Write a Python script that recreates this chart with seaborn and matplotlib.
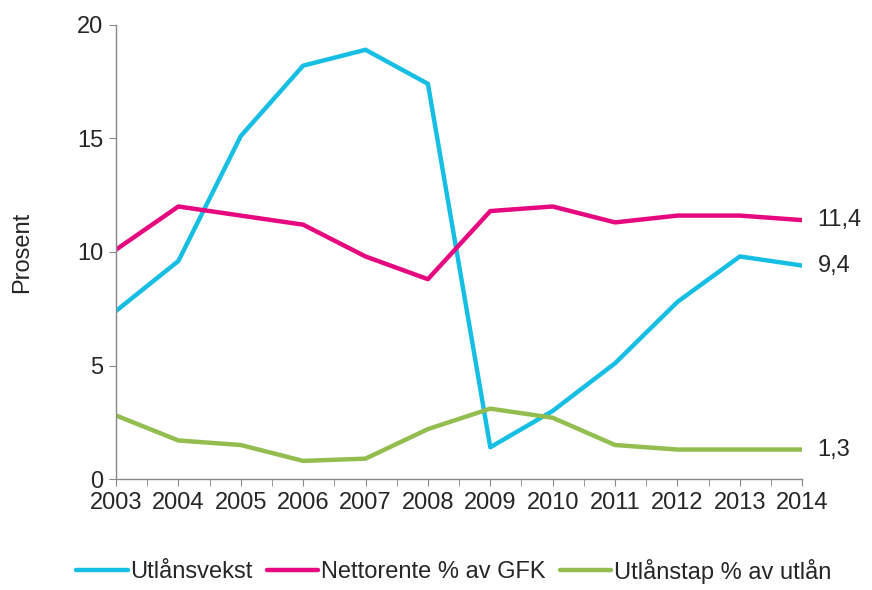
import matplotlib
matplotlib.use("Agg")
import matplotlib.pyplot as plt
import seaborn as sns
import pandas as pd
import numpy as np

# data
years = list(range(2003, 2015))
utlansvekst = [7.4, 9.6, 15.1, 18.2, 18.9, 17.4, 1.4, 3.0, 5.1, 7.8, 9.8, 9.4]
nettorente = [10.1, 12.0, 11.6, 11.2, 9.8, 8.8, 11.8, 12.0, 11.3, 11.6, 11.6, 11.4]
utlanstap = [2.8, 1.7, 1.5, 0.8, 0.9, 2.2, 3.1, 2.7, 1.5, 1.3, 1.3, 1.3]
series_names = ["Utlånsvekst", "Nettorente % av GFK", "Utlånstap % av utlån"]
end_labels = ["9,4", "11,4", "1,3"]
colors = ["#17BEE3", "#E6087F", "#93BE4F"]

df = pd.DataFrame({"year": years,
                   series_names[0]: utlansvekst,
                   series_names[1]: nettorente,
                   series_names[2]: utlanstap})
long = df.melt(id_vars="year", var_name="serie", value_name="verdi")

sns.set_style("white")
plt.rcParams['font.family'] = ['Liberation Sans Narrow', 'Liberation Sans', 'DejaVu Sans']

fig = plt.figure(figsize=(8.72, 5.9), dpi=100)
ax = fig.add_axes([0.133, 0.188, 0.787, 0.770])

sns.lineplot(data=long, x="year", y="verdi", hue="serie", palette=colors,
             hue_order=series_names, linewidth=3.2, ax=ax, legend=False)

ax.set_xlim(2003, 2014)
ax.set_ylim(0, 20)
ax.set_yticks([0, 5, 10, 15, 20])
ax.set_xticks(years)
ax.set_xticks(np.arange(2003.5, 2014, 1), minor=True)
ax.tick_params(axis="both", which="major", labelsize=17, length=5, color="#888888",
               direction="out", left=True, bottom=True, pad=4)
ax.tick_params(axis="x", which="minor", length=5, color="#888888", bottom=True)
ax.set_xlabel("")
ax.set_ylabel("Prosent", fontsize=17, labelpad=32)

for s in ["top", "right"]:
    ax.spines[s].set_visible(False)
for s in ["left", "bottom"]:
    ax.spines[s].set_color("#888888")
    ax.spines[s].set_linewidth(1)

# end-of-line labels
last_vals = [utlansvekst[-1], nettorente[-1], utlanstap[-1]]
for val, txt in zip(last_vals, end_labels):
    ax.annotate(txt, xy=(years[-1], val), xytext=(11, 0), textcoords="offset points",
                va="center", ha="left", fontsize=17, annotation_clip=False)

handles = [plt.Line2D([], [], color=c, lw=3.2) for c in colors]
fig.legend(handles, series_names, loc="lower center", ncol=3, frameon=False,
           fontsize=17, bbox_to_anchor=(0.52, -0.025), handlelength=2.2,
           handletextpad=0.1, columnspacing=0.6)

fig.savefig("out.png", dpi=100)
